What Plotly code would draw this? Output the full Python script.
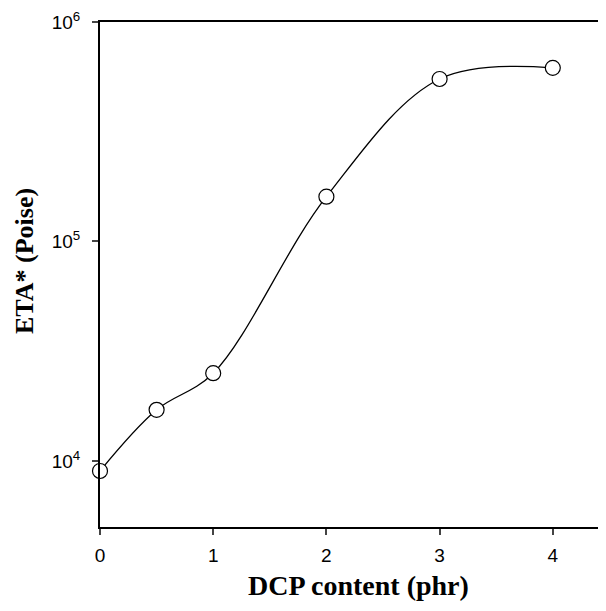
import plotly.graph_objects as go

dcp_phr = [0, 0.5, 1, 2, 3, 4]
eta_poise = [9000, 17100, 25100, 160000, 550000, 618000]
x_ticks = [0, 1, 2, 3, 4]
y_ticks = [1e4, 1e5, 1e6]
y_tick_labels = ["10<sup>4</sup>", "10<sup>5</sup>", "10<sup>6</sup>"]
x_title = "DCP content (phr)"
y_title = "ETA* (Poise)"

fig = go.Figure()
fig.add_trace(go.Scatter(
    x=dcp_phr, y=eta_poise, mode="lines+markers",
    line=dict(color="black", width=1.3, shape="spline", smoothing=1.0),
    marker=dict(symbol="circle", size=15, color="white",
                line=dict(color="black", width=1.2)),
    showlegend=False, cliponaxis=False,
))

title_font = dict(family="Liberation Serif, Times New Roman", size=28, color="black")
tick_font = dict(family="Liberation Sans, Arial", size=19, color="black")

# page body has an 8px margin, so the figure is sized/offset to compensate
fig.update_layout(
    width=598, height=603,
    margin=dict(l=92, r=0, t=14, b=84),
    paper_bgcolor="white", plot_bgcolor="white",
    font=tick_font,
    xaxis=dict(
        range=[0, 4.47], tickvals=x_ticks, ticks="outside", ticklen=6,
        tickwidth=2, showline=True, linewidth=2, linecolor="black",
        mirror=True, showgrid=False, zeroline=False, automargin=False,
        tickfont=tick_font, ticklabelstandoff=4,
    ),
    yaxis=dict(
        type="log", range=[3.699, 6], tickvals=y_ticks, ticktext=y_tick_labels,
        ticks="outside", ticklen=6, tickwidth=2, showline=True, linewidth=2,
        linecolor="black", showgrid=False, zeroline=False, automargin=False,
        tickfont=tick_font, ticklabelstandoff=8,
    ),
    annotations=[
        dict(text="<b>" + x_title + "</b>", xref="paper", yref="paper",
             x=0.51, y=-0.115, xanchor="center", yanchor="middle",
             showarrow=False, font=title_font),
        dict(text="<b>" + y_title + "</b>", xref="paper", yref="paper",
             x=-0.148, y=0.527, xanchor="center", yanchor="middle",
             textangle=-90, showarrow=False, font=dict(title_font, size=26)),
    ],
)
fig.write_html("out.html")
